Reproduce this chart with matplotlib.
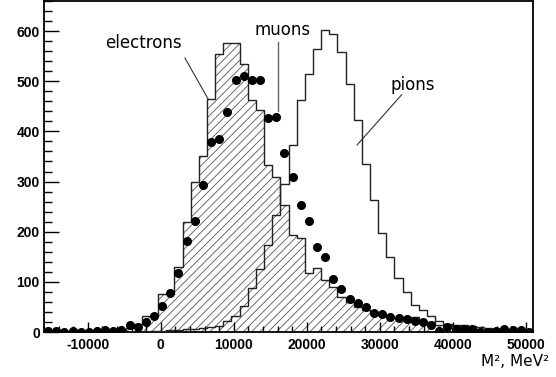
import numpy as np
import matplotlib
matplotlib.use("Agg")
import matplotlib.pyplot as plt
from matplotlib.ticker import MultipleLocator

plt.rcParams["hatch.linewidth"] = 0.6
plt.rcParams["axes.unicode_minus"] = False

# Histogram binning (60 bins over the axis range)
x_lo, x_hi, n_bins = -16000, 51000, 60

# Bin contents
electrons = [0, 0, 0, 0, 0, 0, 0, 1, 2, 3,
             8, 16, 31, 31, 76, 76, 129, 219, 299, 351,
             465, 555, 577, 577, 535, 463, 442, 332, 309, 253,
             193, 187, 117, 127, 104, 90, 70, 60, 50, 44,
             38, 34, 30, 28, 30, 30, 22, 20, 14, 14,
             14, 13, 12, 10, 8, 6, 5, 4, 3, 2]

pions = [0, 0, 0, 0, 0, 0, 0, 0, 0, 0,
         0, 0, 0, 1, 2, 3, 4, 5, 6, 8,
         9, 11, 21, 31, 52, 87, 125, 173, 233, 296,
         372, 462, 514, 565, 602, 595, 558, 495, 422, 335,
         263, 197, 149, 107, 80, 54, 44, 32, 21, 15,
         11, 9, 7, 6, 5, 4, 3, 3, 2, 2]

muons = [1, 1, 0, 1, 0, 0, 1, 4, 2, 3,
         13, 9, 19, 32, 52, 78, 117, 181, 221, 294,
         378, 384, 438, 502, 510, 503, 502, 426, 429, 356,
         309, 253, 221, 170, 149, 105, 85, 65, 58, 49,
         37, 36, 30, 27, 25, 22, 19, 14, 1, 9,
         5, 5, 5, 0, 0, 1, 5, 4, 3, 0]

edges = np.linspace(x_lo, x_hi, n_bins + 1)
centers = 0.5 * (edges[:-1] + edges[1:])

fig = plt.figure(figsize=(5.56, 3.77), dpi=100)
ax = fig.add_axes([44 / 556, 45 / 377, 489 / 556, 331 / 377])

# electrons: hatched histogram
ax.stairs(electrons, edges, fill=True, facecolor="white", edgecolor="#555555",
          hatch="////", linewidth=0, zorder=1)
ax.stairs(electrons, edges, color="#222222", linewidth=1.0, zorder=2)

# pions: open histogram
ax.stairs(pions, edges, color="#222222", linewidth=1.0, zorder=3)

# muons: points
ax.plot(centers, muons, "o", color="black", markersize=5.5, zorder=4)

# labels with pointer lines
ax.text(-2400, 577, "electrons", fontsize=12, ha="center", va="center")
ax.plot([3320, 6470], [546, 465], color="#333333", lw=0.8)
ax.text(16750, 602, "muons", fontsize=12, ha="center", va="center")
ax.plot([16060, 16060], [578, 440], color="#666666", lw=1.0)
ax.text(34560, 492, "pions", fontsize=12, ha="center", va="center")
ax.plot([33000, 26900], [473, 373], color="#333333", lw=0.8)

ax.set_xlim(x_lo, x_hi)
ax.set_ylim(0, 660)

ax.xaxis.set_major_locator(MultipleLocator(10000))
ax.xaxis.set_minor_locator(MultipleLocator(2000))
ax.yaxis.set_major_locator(MultipleLocator(100))
ax.yaxis.set_minor_locator(MultipleLocator(20))
ax.tick_params(axis="x", which="major", direction="in", length=7, width=1, pad=4)
ax.tick_params(axis="x", which="minor", direction="in", length=4, width=1)
ax.tick_params(axis="y", which="major", direction="in", length=11, width=1, pad=3)
ax.tick_params(axis="y", which="minor", direction="in", length=6, width=1)
for lab in ax.get_xticklabels() + ax.get_yticklabels():
    lab.set_family("Liberation Sans")
    lab.set_fontweight("bold")
    lab.set_fontsize(10)
for sp in ax.spines.values():
    sp.set_linewidth(1.3)

fig.text(549 / 556, 1 - 362 / 377, "M², MeV²", fontsize=11, ha="right", va="center")

fig.savefig("out.png", dpi=100)
